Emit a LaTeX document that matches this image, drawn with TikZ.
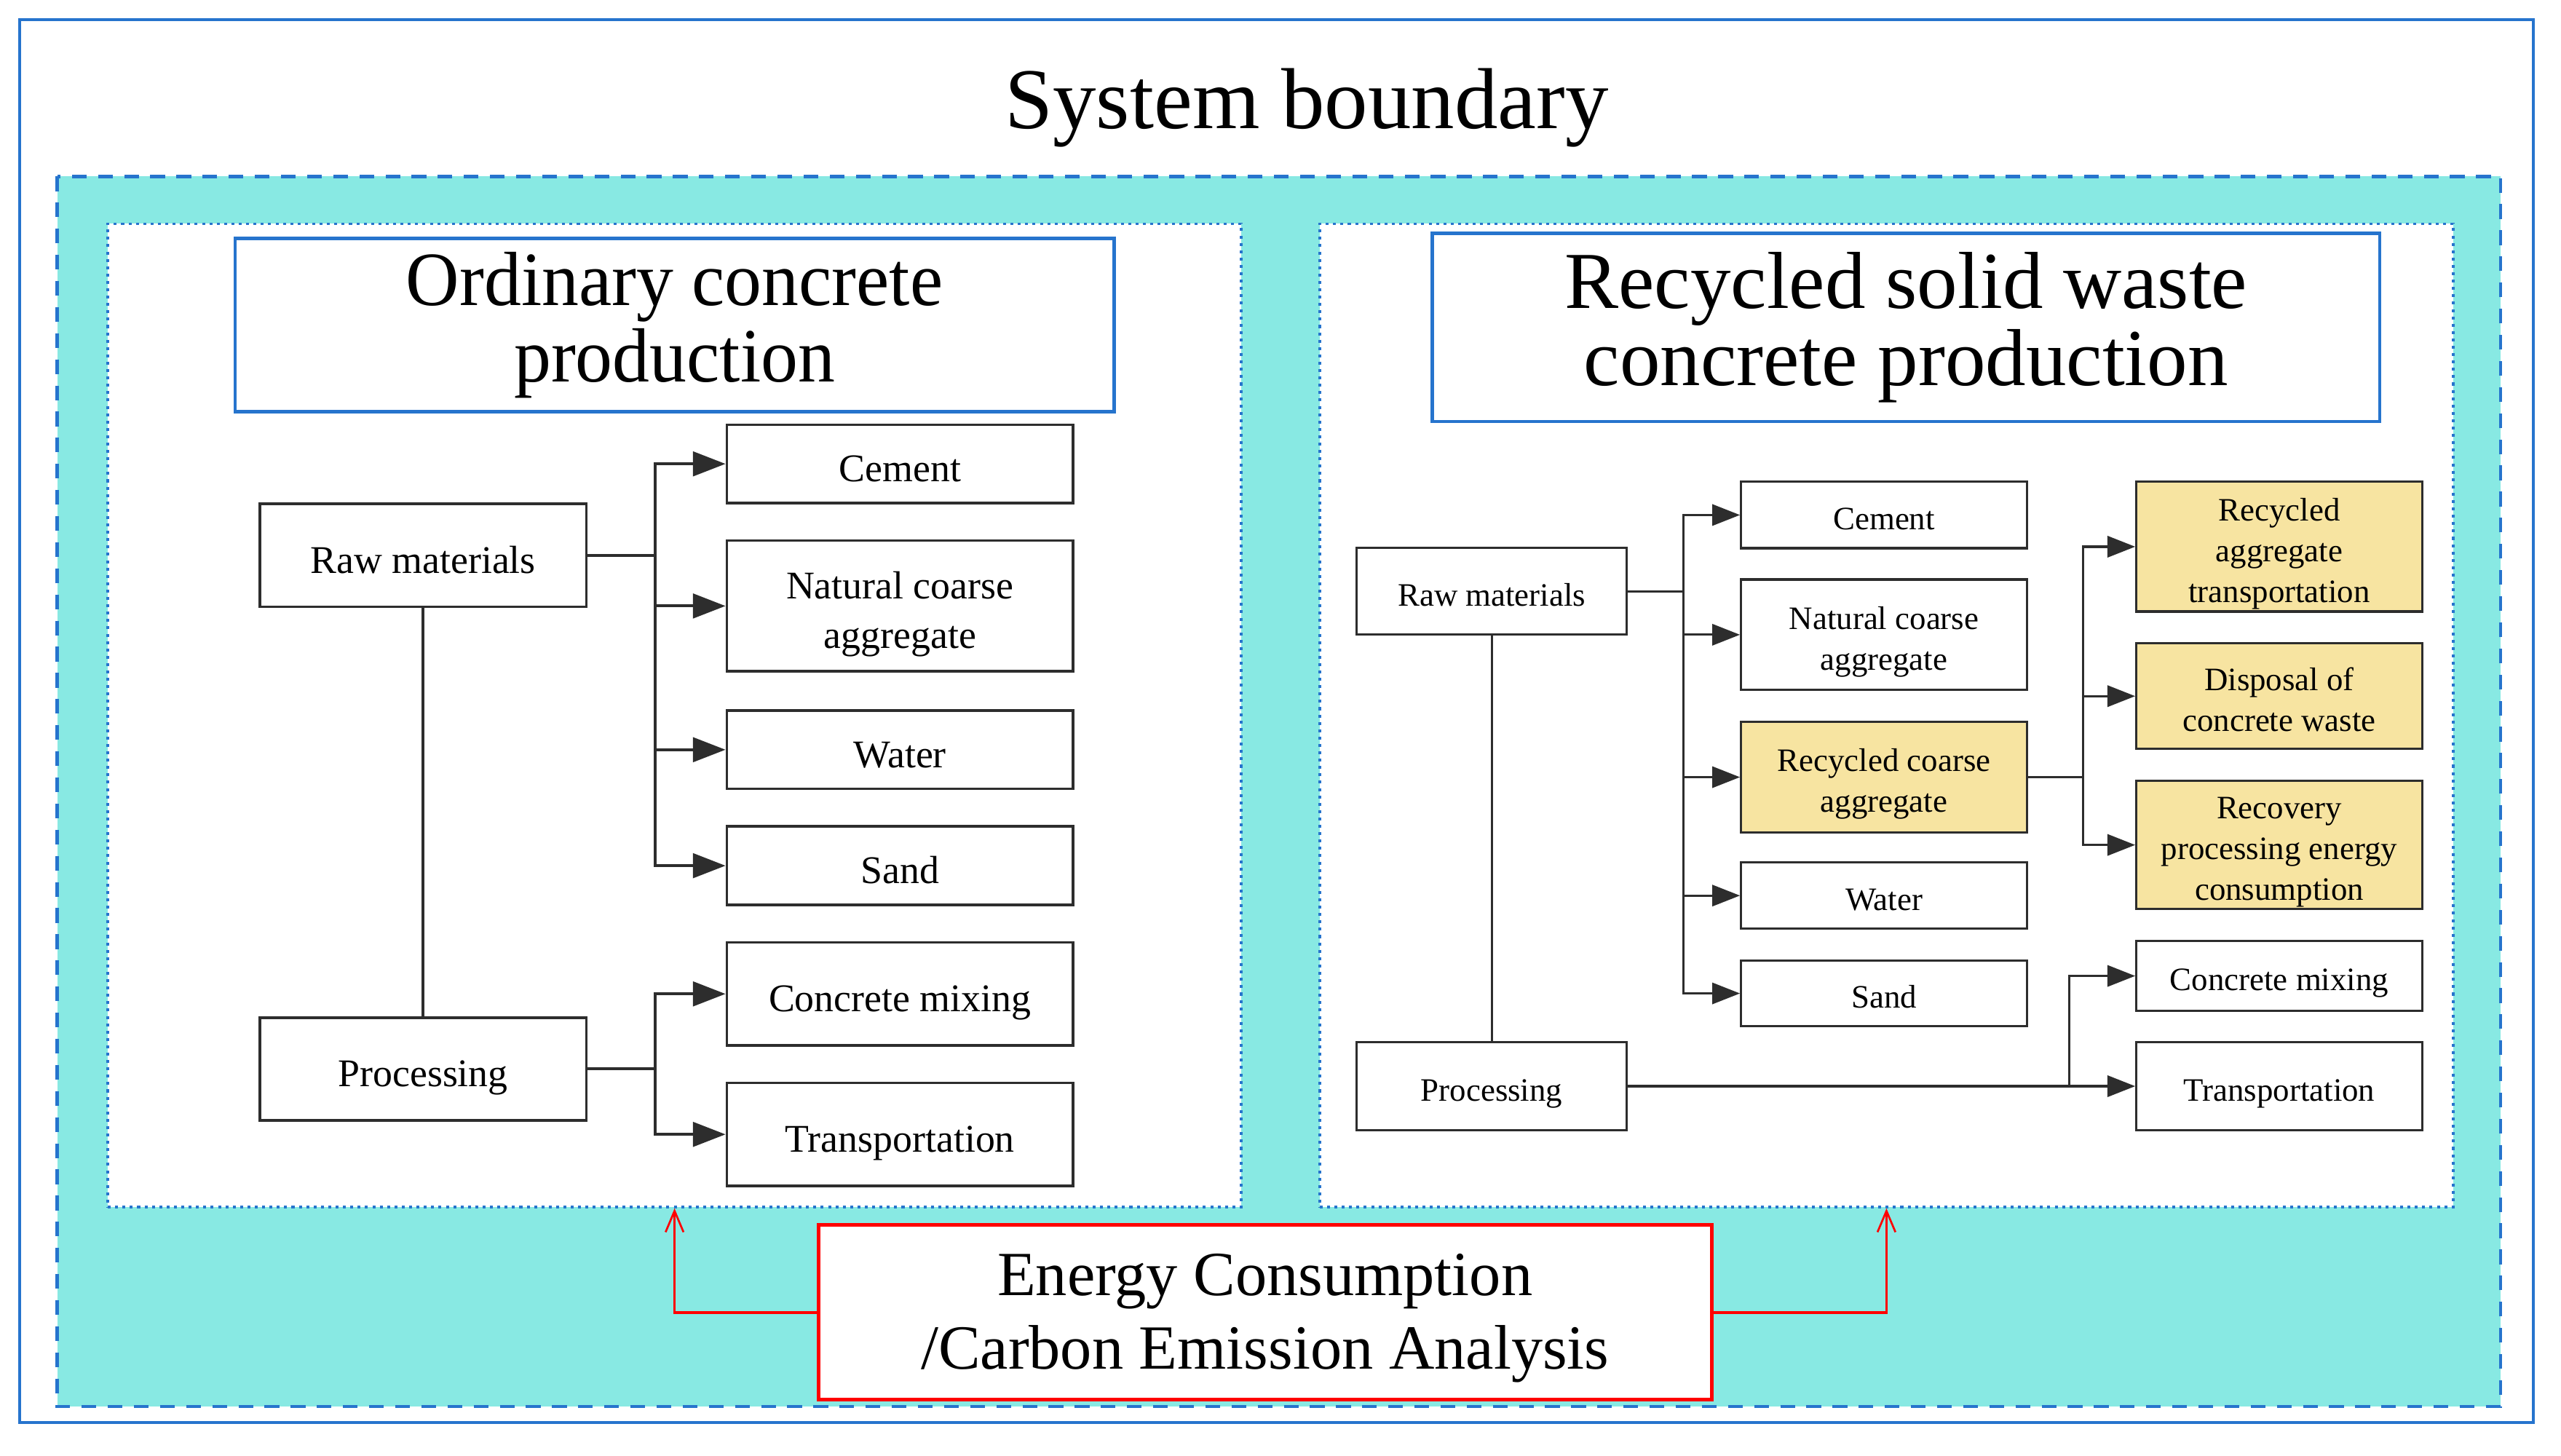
\documentclass[tikz,border=0pt]{standalone}
\usepackage{fontspec}
\setmainfont{Liberation Serif}
\newfontfamily\narrowserif[FakeStretch=0.965]{Liberation Serif}
\usetikzlibrary{arrows.meta}
\definecolor{bblue}{RGB}{38,116,205}
\definecolor{tealbg}{RGB}{136,233,227}
\definecolor{ylw}{RGB}{247,228,161}
\definecolor{boxgray}{RGB}{45,45,45}
\definecolor{redc}{RGB}{255,0,0}
\newcommand\bxs[1]{\rule{0pt}{1.15em}#1\rule[-0.25em]{0pt}{0pt}}
\newcommand\ebs[1]{\rule{0pt}{0.85em}#1\rule[-0.22em]{0pt}{0pt}}
\begin{document}
\begin{tikzpicture}[x=1pt,y=-1pt,
  panel/.style={draw=bblue, fill=white, line width=1.6pt, dash pattern=on 1.8pt off 2.7pt, inner sep=0pt},
  tbox/.style={draw=bblue, fill=white, line width=2.1pt, inner sep=0pt, align=center},
  lbox/.style={draw=boxgray, line width=1.6pt, fill=white, inner sep=0pt, align=center,
    minimum width=212pt, font=\fontsize{24}{30}\selectfont},
  rbox/.style={draw=boxgray, line width=1.4pt, fill=white, inner sep=0pt, align=center,
    minimum width=175pt, font=\fontsize{20}{25}\selectfont},
  ybox/.style={rbox, fill=ylw},
  larr/.style={draw=boxgray, line width=1.8pt, -{Triangle[length=20pt,width=15pt]}},
  rarr/.style={draw=boxgray, line width=1.4pt, -{Triangle[length=17pt,width=13pt]}},
  lline/.style={draw=boxgray, line width=1.8pt},
  rline/.style={draw=boxgray, line width=1.4pt},
  ebox/.style={draw=redc, fill=white, line width=2.2pt, inner sep=0pt, align=center,
    font=\fontsize{38.5}{45.3}\selectfont},
  redarr/.style={draw=redc, line width=1.6pt, -{Straight Barb[length=13pt,width=11pt,line width=1.2pt]}}
]
\useasboundingbox (0,0) rectangle (1568,891);
\fill[white] (0,0) rectangle (1568,891);
% outer boundary
\draw[bblue, line width=2pt] (12,12) rectangle (1551,871);
\node[anchor=base, inner sep=0pt, font=\fontsize{53}{60}\selectfont] (sysT) at (800,78.8) {System boundary};
% teal region
\draw[draw=bblue, fill=tealbg, line width=2pt, dash pattern=on 9pt off 7pt] (35,108) rectangle (1531,861);
% panels
\node[panel, minimum width=694pt, minimum height=602pt] (panelL) at (413,438) {};
\node[panel, minimum width=694pt, minimum height=602pt] (panelR) at (1155,438) {};
% titles
\node[tbox, minimum width=538pt, minimum height=106pt, font=\narrowserif\fontsize{47}{47}\selectfont] (ordT) at (413,199) {Ordinary concrete\\production};
\node[tbox, minimum width=580pt, minimum height=115pt, font=\fontsize{49.5}{47}\selectfont] (recT) at (1167,200.5) {Recycled solid waste\\concrete production};

% ---------- left diagram ----------
\node[lbox, minimum width=200pt, minimum height=63pt] (rawL) at (259,340) {\bxs{Raw materials}};
\node[lbox, minimum width=200pt, minimum height=63pt] (procL) at (259,654.5) {\bxs{Processing}};
\node[lbox, minimum height=48pt] (cementL) at (551,284) {\bxs{Cement}};
\node[lbox, minimum height=80pt] (natL) at (551,371) {\bxs{Natural coarse\\aggregate}};
\node[lbox, minimum height=48pt] (waterL) at (551,459) {\bxs{Water}};
\node[lbox, minimum height=48pt] (sandL) at (551,530) {\bxs{Sand}};
\node[lbox, minimum height=63pt] (mixL) at (551,608.5) {\bxs{Concrete mixing}};
\node[lbox, minimum height=63pt] (transL) at (551,694.5) {\bxs{Transportation}};
\coordinate (busLa) at (401,340);
\coordinate (busLb) at (401,654.5);
\draw[lline] (rawL.south) -- (procL.north);
\foreach \t in {cementL,natL,waterL,sandL}
  \draw[larr] (rawL.east) -- (busLa) |- (\t.west);
\foreach \t in {mixL,transL}
  \draw[larr] (procL.east) -- (busLb) |- (\t.west);

% ---------- right diagram ----------
\node[rbox, minimum width=165.4pt, minimum height=53pt] (rawR) at (913.3,362) {\bxs{Raw materials}};
\node[rbox, minimum width=165.4pt, minimum height=54pt] (procR) at (913.3,665) {\bxs{Processing}};
\node[rbox, minimum height=40.6pt] (cementR) at (1153.5,315.3) {\bxs{Cement}};
\node[rbox, minimum height=67.7pt] (natR) at (1153.5,388.6) {\bxs{Natural coarse\\aggregate}};
\node[ybox, minimum height=67.5pt] (recR) at (1153.5,475.8) {\bxs{Recycled coarse\\aggregate}};
\node[rbox, minimum height=40.6pt] (waterR) at (1153.5,548.3) {\bxs{Water}};
\node[rbox, minimum height=40.4pt] (sandR) at (1153.5,608.2) {\bxs{Sand}};
\node[ybox, minimum height=79.4pt] (ratR) at (1395.5,334.7) {\bxs{Recycled\\aggregate\\transportation}};
\node[ybox, minimum height=64.5pt] (dispR) at (1395.5,426.2) {\bxs{Disposal of\\concrete waste}};
\node[ybox, minimum height=78.7pt] (recovR) at (1395.5,517.3) {\bxs{Recovery\\processing energy\\consumption}};
\node[rbox, minimum height=43pt] (mixR) at (1395.5,597.5) {\bxs{Concrete mixing}};
\node[rbox, minimum height=54pt] (transR) at (1395.5,665) {\bxs{Transportation}};
\coordinate (busRa) at (1030.5,362);
\coordinate (busRb) at (1275.3,475.8);
\coordinate (busRc) at (1267,665);
\draw[rline] (rawR.south) -- (procR.north);
\foreach \t in {cementR,natR,recR,waterR,sandR}
  \draw[rarr] (rawR.east) -- (busRa) |- (\t.west);
\foreach \t in {ratR,dispR,recovR}
  \draw[rarr] (recR.east) -- (busRb) |- (\t.west);
\draw[rarr] (procR.east) -- (transR.west);
\draw[rarr] (busRc) |- (mixR.west);

% ---------- energy analysis ----------
\node[ebox, minimum width=547pt, minimum height=107pt] (eca) at (774.5,803.5) {\ebs{Energy Consumption\\/Carbon Emission Analysis}};
\draw[redarr] (eca.west) -| (panelL.south);
\draw[redarr] (eca.east) -| (panelR.south);
\end{tikzpicture}
\end{document}
